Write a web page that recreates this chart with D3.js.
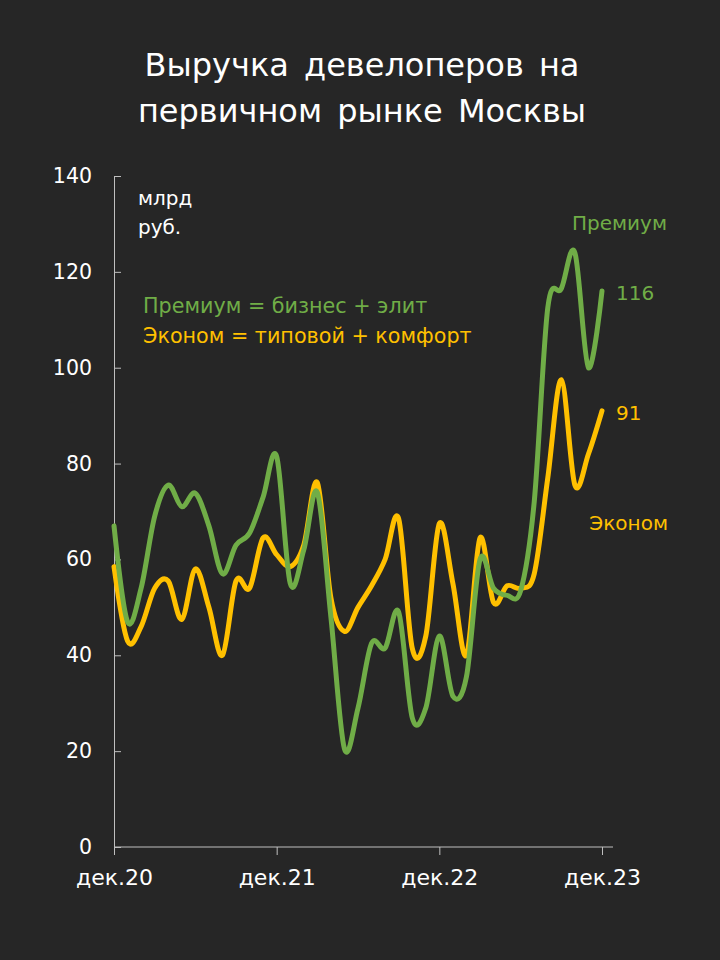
<!DOCTYPE html>
<html>
<head>
<meta charset="utf-8">
<script src="https://cdn.jsdelivr.net/npm/d3@7"></script>
<style>
  html, body { margin: 0; padding: 0; background: #262626; }
  svg { display: block; font-family: "DejaVu Sans", sans-serif; }
</style>
</head>
<body>
<div id="chart"></div>
<script>
// Месяцы: дек.20 ... дек.23 (37 точек)
const months = d3.range(37);
const tickMonths = [0, 12, 24, 36];
const tickLabels = ["дек.20", "дек.21", "дек.22", "дек.23"];
const yTicks = [0, 20, 40, 60, 80, 100, 120, 140];

// Премиум = бизнес + элит, млрд руб.
const premium = [67, 47, 54, 69, 75.5, 71, 73.8, 67, 57, 63, 65.5, 73, 81.5,
                 55, 62, 74, 48, 20.5, 29, 42.5, 41.5, 49, 27, 29, 44,
                 31.5, 35.5, 60, 54, 52.5, 53.5, 72, 112.5, 116.5, 124, 100, 116];
// Эконом = типовой + комфорт, млрд руб.
const econom = [58.5, 43, 46, 54, 55.5, 47.5, 58, 50, 40, 55.5, 54, 64.5, 61,
                58.5, 63, 76, 52, 45, 50, 54.5, 60, 68.5, 41.5, 44, 67.5,
                55, 40, 64.5, 51, 54.5, 54, 57, 77, 97.5, 75.5, 82, 91];

const green = "#70ad47", gold = "#ffc000", axisColor = "#bfbfbf";

const width = 720, height = 960;
const svg = d3.select("#chart").append("svg")
    .attr("width", width)
    .attr("height", height);

svg.append("rect").attr("width", width).attr("height", height).attr("fill", "#262626");

const x = d3.scaleLinear().domain([0, 36]).range([114, 602]);
const y = d3.scaleLinear().domain([0, 140]).range([847, 176]);

// Заголовок
["Выручка девелоперов на", "первичном рынке Москвы"].forEach((t, i) => {
    svg.append("text")
        .attr("x", 362).attr("y", 76 + i * 46)
        .attr("text-anchor", "middle")
        .attr("fill", "#ffffff")
        .style("font-size", "32px")
        .style("word-spacing", "5px")
        .text(t);
});

// Ось Y
const yAxis = svg.append("g")
    .attr("transform", `translate(${x(0)},0)`)
    .call(d3.axisLeft(y).tickValues(yTicks).tickSizeInner(-7).tickSizeOuter(0).tickPadding(22));
yAxis.select(".domain").attr("stroke", axisColor);
yAxis.selectAll(".tick line").attr("stroke", axisColor);
yAxis.selectAll(".tick text").attr("fill", "#ffffff").style("font-size", "20.5px").style("font-family", "DejaVu Sans");

// Ось X
const xAxis = svg.append("g")
    .attr("transform", `translate(0,${y(0)})`)
    .call(d3.axisBottom(x).tickValues(tickMonths).tickFormat((d, i) => tickLabels[i]).tickSizeInner(8).tickSizeOuter(0).tickPadding(14));
xAxis.select(".domain").remove();
xAxis.append("line")
    .attr("x1", x(0)).attr("x2", x(36) + 11)
    .attr("stroke", axisColor);
xAxis.selectAll(".tick line").attr("stroke", axisColor);
xAxis.selectAll(".tick text").attr("fill", "#ffffff").style("font-size", "22px").style("font-family", "DejaVu Sans");

// Линии
const line = d3.line()
    .x((d, i) => x(months[i]))
    .y(d => y(d))
    .curve(d3.curveCatmullRom.alpha(0));

svg.append("path")
    .datum(econom)
    .attr("fill", "none")
    .attr("stroke", gold)
    .attr("stroke-width", 5)
    .attr("stroke-linejoin", "round")
    .attr("stroke-linecap", "round")
    .attr("d", line);

svg.append("path")
    .datum(premium)
    .attr("fill", "none")
    .attr("stroke", green)
    .attr("stroke-width", 5)
    .attr("stroke-linejoin", "round")
    .attr("stroke-linecap", "round")
    .attr("d", line);

// Подписи
const label = (tx, ty, txt, color, anchor, size) => svg.append("text")
    .attr("x", tx).attr("y", ty)
    .attr("fill", color)
    .attr("text-anchor", anchor || "start")
    .style("font-size", (size || 20) + "px")
    .text(txt);

label(138, 205, "млрд", "#ffffff");
label(138, 234, "руб.", "#ffffff");
label(143, 313, "Премиум = бизнес + элит", green, "start", 20.7);
label(143, 343, "Эконом = типовой + комфорт", gold, "start", 20.7);
label(667, 230, "Премиум", green, "end");
label(616, y(premium[36]) + 9, Math.round(premium[36]), green);
label(616, y(econom[36]) + 9, Math.round(econom[36]), gold);
label(668, 530, "Эконом", gold, "end");
</script>
</body>
</html>
